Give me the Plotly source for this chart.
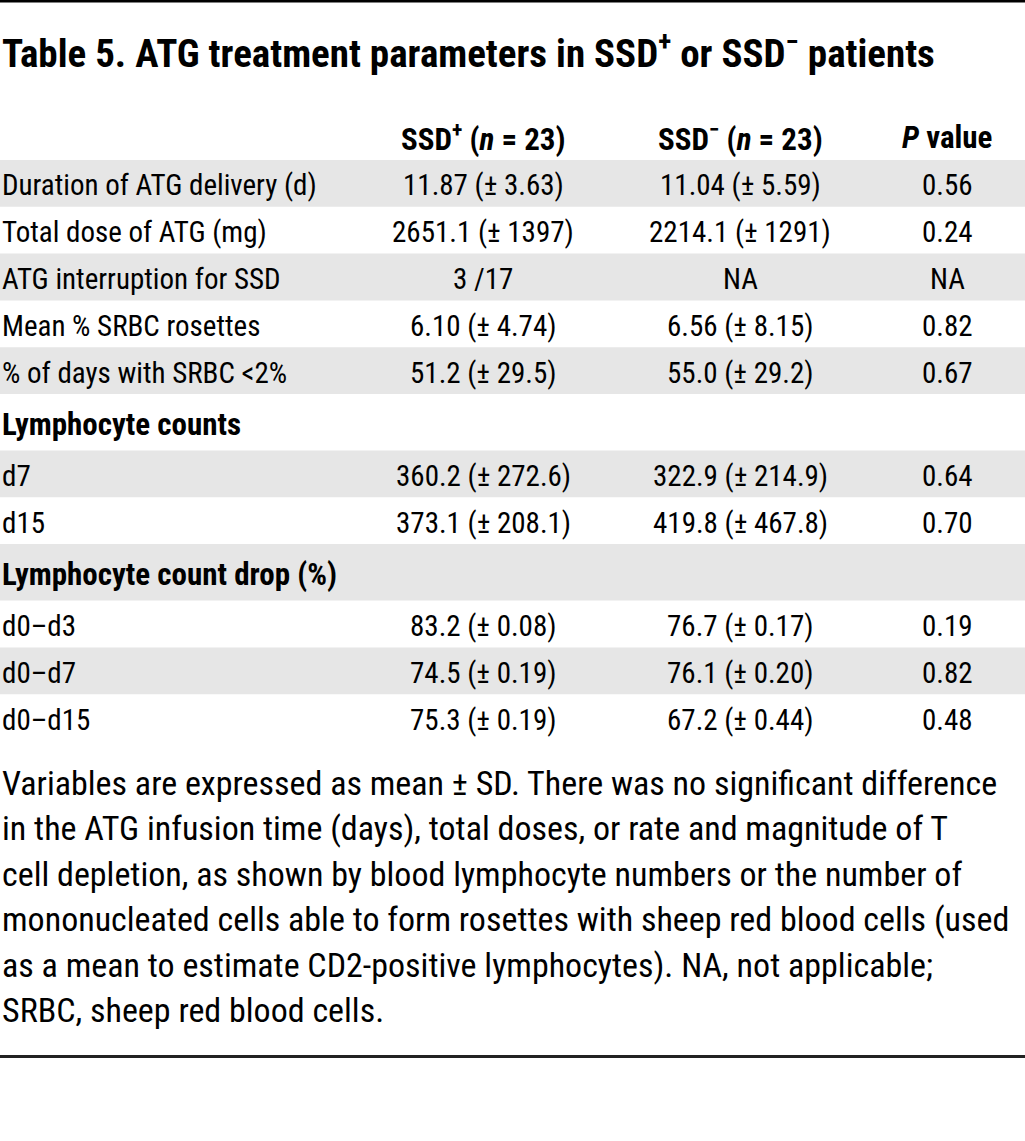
import plotly.graph_objects as go

title = "Table 5. ATG treatment parameters in SSD<sup>+</sup> or SSD<sup>−</sup> patients"
col_headers = ["SSD<sup>+</sup> (<i>n</i> = 23)", "SSD<sup>−</sup> (<i>n</i> = 23)", "<i>P</i> value"]

row_labels = [
    "Duration of ATG delivery (d)", "Total dose of ATG (mg)", "ATG interruption for SSD",
    "Mean % SRBC rosettes", "% of days with SRBC &lt;2%", "Lymphocyte counts",
    "d7", "d15", "Lymphocyte count drop (%)", "d0–d3", "d0–d7", "d0–d15",
]
is_section = [False, False, False, False, False, True, False, False, True, False, False, False]
ssd_pos = ["11.87 (± 3.63)", "2651.1 (± 1397)", "3 /17", "6.10 (± 4.74)", "51.2 (± 29.5)", "",
           "360.2 (± 272.6)", "373.1 (± 208.1)", "", "83.2 (± 0.08)", "74.5 (± 0.19)", "75.3 (± 0.19)"]
ssd_neg = ["11.04 (± 5.59)", "2214.1 (± 1291)", "NA", "6.56 (± 8.15)", "55.0 (± 29.2)", "",
           "322.9 (± 214.9)", "419.8 (± 467.8)", "", "76.7 (± 0.17)", "76.1 (± 0.20)", "67.2 (± 0.44)"]
p_values = ["0.56", "0.24", "NA", "0.82", "0.67", "", "0.64", "0.70", "", "0.19", "0.82", "0.48"]

footnote_lines = [
    "Variables are expressed as mean ± SD. There was no significant difference",
    "in the ATG infusion time (days), total doses, or rate and magnitude of T",
    "cell depletion, as shown by blood lymphocyte numbers or the number of",
    "mononucleated cells able to form rosettes with sheep red blood cells (used",
    "as a mean to estimate CD2-positive lymphocytes). NA, not applicable;",
    "SRBC, sheep red blood cells.",
]

FONT = "Roboto Condensed, Liberation Sans Narrow, sans-serif"
W, H = 1025, 1141
col_x = [483, 740, 947]
ROW_H, SEC_H, Y0 = 46.8, 56.5, 160
SIZE = 29

fig = go.Figure()
shapes, annos = [], []

# top rule
shapes.append(dict(type="line", xref="x", yref="y", x0=0, x1=W, y0=1, y1=1,
                   line=dict(color="#000", width=3)))
annos.append(dict(x=0, y=51, text="<b>" + title + "</b>", xanchor="left", yanchor="middle",
                  showarrow=False, font=dict(family=FONT, size=39, color="#000")))
for cx, h in zip(col_x, col_headers):
    annos.append(dict(x=cx, y=137, text="<b>" + h + "</b>", xanchor="center", yanchor="middle",
                      showarrow=False, font=dict(family=FONT, size=31, color="#000")))

y = Y0
for i, lab in enumerate(row_labels):
    h = SEC_H if is_section[i] else ROW_H
    if i % 2 == 0:
        shapes.append(dict(type="rect", xref="x", yref="y", x0=0, x1=W, y0=y, y1=y + h,
                           fillcolor="#e6e6e6", line=dict(width=0), layer="below"))
    cy = y + h / 2 + 2
    txt = "<b>" + lab + "</b>" if is_section[i] else lab
    annos.append(dict(x=0, y=cy, text=txt, xanchor="left", yanchor="middle", showarrow=False,
                      font=dict(family=FONT, size=31 if is_section[i] else SIZE, color="#000")))
    for cx, v in zip(col_x, [ssd_pos[i], ssd_neg[i], p_values[i]]):
        if v:
            annos.append(dict(x=cx, y=cy, text=v, xanchor="center", yanchor="middle",
                              showarrow=False, font=dict(family=FONT, size=SIZE, color="#000")))
    y += h

fy = 783
for line in footnote_lines:
    annos.append(dict(x=0, y=fy, text=line, xanchor="left", yanchor="middle", showarrow=False,
                      font=dict(family=FONT, size=34, color="#000")))
    fy += 45.4

shapes.append(dict(type="line", xref="x", yref="y", x0=0, x1=W, y0=1056.5, y1=1056.5,
                   line=dict(color="#222", width=3)))

fig.update_layout(width=W, height=H, margin=dict(l=0, r=0, t=0, b=0),
                  paper_bgcolor="white", plot_bgcolor="white", shapes=shapes, annotations=annos,
                  xaxis=dict(range=[0, W], visible=False, fixedrange=True),
                  yaxis=dict(range=[H, 0], visible=False, fixedrange=True), showlegend=False)
fig.write_html("out.html", config={"displayModeBar": False, "staticPlot": True},
               post_script="document.body.style.margin='0px';")
